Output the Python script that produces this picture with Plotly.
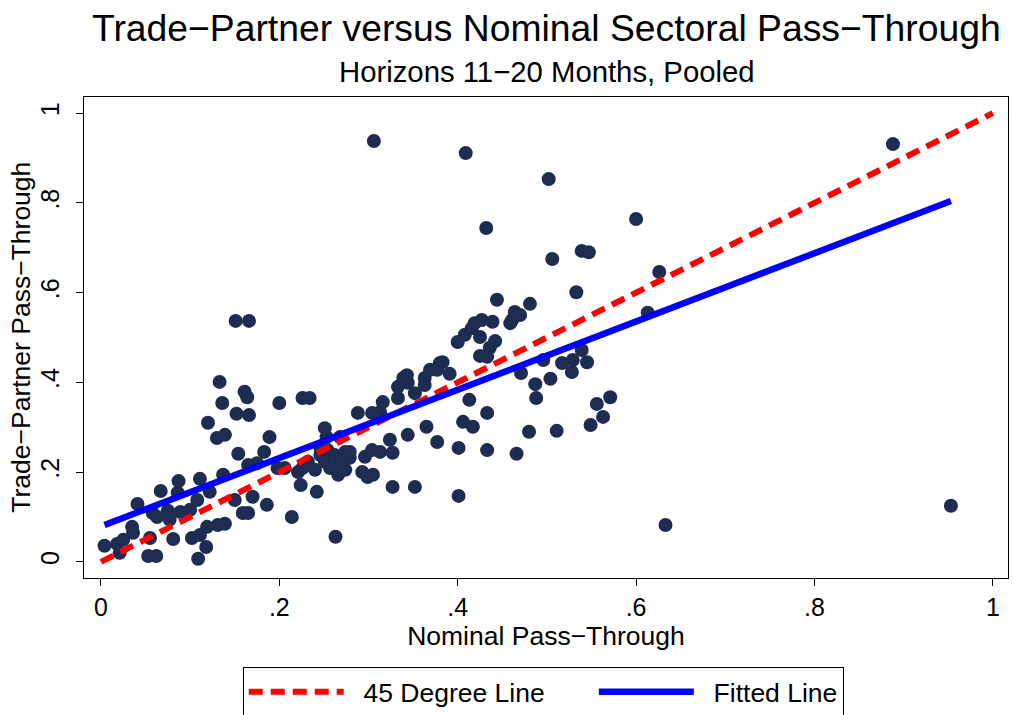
import plotly.graph_objects as go

# Nominal pass-through (x) and trade-partner pass-through (y)
x_nominal = [
    0.004, 0.018, 0.025, 0.021, 0.035, 0.036, 0.041, 0.053, 0.062, 0.055,
    0.058, 0.063, 0.067, 0.075, 0.077, 0.081, 0.086, 0.087, 0.089, 0.100,
    0.102, 0.108, 0.109, 0.111, 0.111, 0.118, 0.119, 0.120, 0.122, 0.130,
    0.131, 0.139, 0.139, 0.133, 0.136, 0.137, 0.150, 0.151, 0.166, 0.152,
    0.154, 0.159, 0.165, 0.161, 0.164, 0.165, 0.166, 0.170, 0.175, 0.183,
    0.186, 0.189, 0.200, 0.198, 0.214, 0.221, 0.226, 0.224, 0.226, 0.234,
    0.242, 0.251, 0.253, 0.263, 0.232, 0.240, 0.246, 0.251, 0.257, 0.262,
    0.268, 0.274, 0.279, 0.266, 0.254, 0.274, 0.206, 0.288, 0.293, 0.299,
    0.305, 0.296, 0.304, 0.313, 0.304, 0.313, 0.316, 0.324, 0.327, 0.327,
    0.333, 0.333, 0.339, 0.343, 0.344, 0.352, 0.344, 0.352, 0.363, 0.363,
    0.369, 0.365, 0.377, 0.380, 0.377, 0.383, 0.391, 0.401, 0.401, 0.400,
    0.408, 0.416, 0.419, 0.427, 0.439, 0.425, 0.442, 0.436, 0.425, 0.433,
    0.444, 0.459, 0.461, 0.464, 0.470, 0.481, 0.413, 0.433, 0.406, 0.417,
    0.433, 0.466, 0.480, 0.511, 0.471, 0.487, 0.488, 0.504, 0.496, 0.517,
    0.529, 0.545, 0.528, 0.539, 0.533, 0.556, 0.571, 0.563, 0.549, 0.409,
    0.502, 0.432, 0.600, 0.539, 0.547, 0.506, 0.626, 0.306, 0.888, 0.953,
    0.633, 0.613, 0.268, 0.246, 0.274, 0.279,
]
y_partner = [
    0.036, 0.040, 0.049, 0.020, 0.078, 0.065, 0.129, 0.013, 0.013, 0.053,
    0.109, 0.100, 0.158, 0.114, 0.094, 0.051, 0.154, 0.180, 0.111, 0.116,
    0.053, 0.138, 0.007, 0.185, 0.060, 0.033, 0.078, 0.310, 0.156, 0.276,
    0.082, 0.085, 0.283, 0.401, 0.354, 0.194, 0.138, 0.537, 0.537, 0.330,
    0.241, 0.109, 0.109, 0.379, 0.367, 0.216, 0.327, 0.145, 0.220, 0.245,
    0.127, 0.278, 0.354, 0.209, 0.100, 0.200, 0.209, 0.171, 0.365, 0.365,
    0.156, 0.298, 0.278, 0.056, 0.223, 0.205, 0.238, 0.223, 0.209, 0.238,
    0.223, 0.205, 0.232, 0.194, 0.249, 0.245, 0.209, 0.332, 0.200, 0.189,
    0.194, 0.234, 0.249, 0.245, 0.332, 0.334, 0.356, 0.272, 0.243, 0.167,
    0.365, 0.390, 0.410, 0.416, 0.399, 0.376, 0.283, 0.167, 0.410, 0.394,
    0.428, 0.301, 0.267, 0.443, 0.428, 0.445, 0.419, 0.254, 0.147, 0.490,
    0.506, 0.521, 0.532, 0.539, 0.535, 0.501, 0.492, 0.477, 0.459, 0.457,
    0.584, 0.532, 0.539, 0.557, 0.550, 0.575, 0.361, 0.332, 0.312, 0.301,
    0.249, 0.241, 0.290, 0.292, 0.421, 0.396, 0.365, 0.408, 0.450, 0.443,
    0.450, 0.445, 0.423, 0.472, 0.601, 0.352, 0.367, 0.323, 0.305, 0.911,
    0.853, 0.744, 0.764, 0.693, 0.690, 0.675, 0.646, 0.938, 0.931, 0.125,
    0.082, 0.555, 0.278, 0.254, 0.243, 0.245,
]

# Reference lines
diag_x = [0, 1]
fit_intercept = 0.079
fit_slope = 0.761

tick_vals = [0, 0.2, 0.4, 0.6, 0.8, 1]
tick_text = ["0", ".2", ".4", ".6", ".8", "1"]

title_text = "Trade−Partner versus Nominal Sectoral Pass−Through"
subtitle_text = "Horizons 11−20 Months, Pooled"
x_title = "Nominal Pass−Through"
y_title = "Trade−Partner Pass−Through"

FONT = "Liberation Sans, Arial, Helvetica, sans-serif"
NB = "\u00a0"

fit_x = [min(x_nominal), max(x_nominal)]
fit_y = [fit_intercept + fit_slope * v for v in fit_x]

fig = go.Figure()
fig.add_trace(go.Scatter(
    x=x_nominal, y=y_partner, mode="markers",
    marker=dict(size=14, color="#1e2c52", line=dict(width=0)),
    showlegend=False, hoverinfo="x+y",
))
fig.add_trace(go.Scatter(
    x=diag_x, y=diag_x, mode="lines", name=NB * 2 + "45 Degree Line" + NB * 6,
    line=dict(color="#ff0000", width=6, dash="14px,8px"),
))
fig.add_trace(go.Scatter(
    x=fit_x, y=fit_y, mode="lines", name=NB * 2 + "Fitted Line",
    line=dict(color="#0000ff", width=6.5),
))

fig.update_layout(
    width=1013, height=715,
    margin=dict(l=84, r=5, t=97, b=137, autoexpand=False),
    paper_bgcolor="white", plot_bgcolor="white",
    font=dict(family=FONT, color="black", size=25),
    xaxis=dict(
        range=[-0.019, 1.017], tickvals=tick_vals, ticktext=tick_text,
        showgrid=False, zeroline=False, showline=True, mirror=True,
        linecolor="black", linewidth=1.2, ticks="outside", ticklen=7,
        tickcolor="black", tickwidth=1.2,
        tickfont=dict(size=25), automargin=False,
        title=dict(text=x_title, font=dict(size=26.5), standoff=3),
    ),
    yaxis=dict(
        range=[-0.036, 1.036], tickvals=tick_vals, ticktext=tick_text,
        showgrid=False, zeroline=False, showline=True, mirror=True,
        linecolor="black", linewidth=1.2, ticks="outside", ticklen=7,
        tickcolor="black", tickwidth=1.2, tickangle=-90,
        tickfont=dict(size=25), ticklabelstandoff=7, automargin=False,
    ),
    legend=dict(
        orientation="h", x=0.497, xanchor="center", y=-0.185, yanchor="top",
        bordercolor="black", borderwidth=1, font=dict(size=26.5),
        itemwidth=95, bgcolor="white",
    ),
    annotations=[
        dict(text=title_text, xref="paper", yref="paper", x=0.501, y=1.1435,
             xanchor="center", yanchor="middle", showarrow=False,
             font=dict(size=37.3, family=FONT, color="black")),
        dict(text=subtitle_text, xref="paper", yref="paper", x=0.501, y=1.052,
             xanchor="center", yanchor="middle", showarrow=False,
             font=dict(size=29.3, family=FONT, color="black")),
        dict(text=y_title, xref="paper", yref="paper", x=-0.069, y=0.5,
             xanchor="center", yanchor="middle", showarrow=False, textangle=-90,
             font=dict(size=26.5, family=FONT, color="black")),
    ],
)

fig.write_html("out.html")
